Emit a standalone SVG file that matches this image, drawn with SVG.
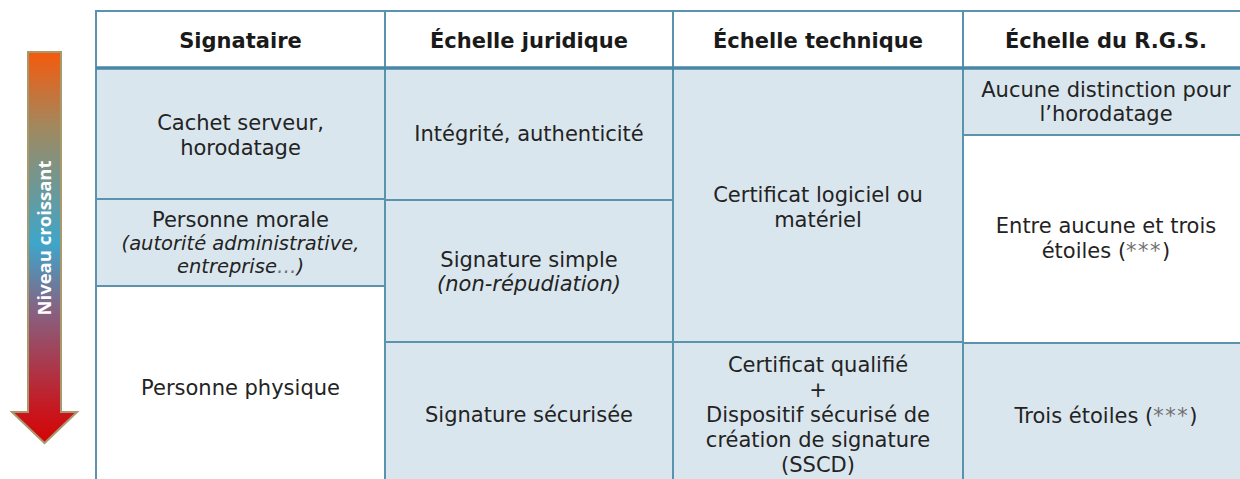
<svg xmlns="http://www.w3.org/2000/svg" width="1240" height="479" viewBox="0 0 1240 479">
  <defs>
    <linearGradient id="levelGrad" gradientUnits="userSpaceOnUse" x1="0" y1="52" x2="0" y2="443">
      <stop offset="0" stop-color="#f45a0c"/>
      <stop offset="0.2" stop-color="#9e8a62"/>
      <stop offset="0.49" stop-color="#3ea6ca"/>
      <stop offset="0.66" stop-color="#866282"/>
      <stop offset="0.92" stop-color="#c8161e"/>
      <stop offset="1" stop-color="#d40404"/>
    </linearGradient>
    <style>
      .cell { stroke: none; }
      .blue { fill: #dae6ee; }
      .white { fill: #ffffff; }
      .grid { stroke: #5a93ae; stroke-width: 2; fill: none; }
      .rule { stroke: #4a87a6; stroke-width: 3.5; }
      .txt { font-family: "DejaVu Sans", Verdana, sans-serif; font-size: 21px; fill: #232323; text-anchor: middle; }
      .hdr { font-weight: bold; fill: #1a1a1a; }
      .it { font-style: italic; font-size: 19.5px; }
      .stars { fill: #707070; letter-spacing: 1.5px; }
      .lbl { font-family: "Open Sans", "DejaVu Sans", sans-serif; font-weight: bold; font-size: 18.5px; fill: #ffffff; text-anchor: middle; }
    </style>
  </defs>

  <rect width="1240" height="479" fill="#ffffff"/>

  <!-- Increasing-level arrow -->
  <g id="level-arrow">
    <path d="M28,52 H61 V412 H77 L44.5,443 L12,412 H28 Z" fill="url(#levelGrad)" stroke="#a8986c" stroke-width="2" stroke-linejoin="miter"/>
    <text class="lbl" transform="translate(51,238) rotate(-90)">Niveau croissant</text>
  </g>

  <!-- Header row -->
  <g id="header">
    <rect class="cell white" x="96" y="11" width="1153" height="57"/>
    <text class="txt hdr" x="240.5" y="48">Signataire</text>
    <text class="txt hdr" x="529" y="48">Échelle juridique</text>
    <text class="txt hdr" x="818" y="48">Échelle technique</text>
    <text class="txt hdr" x="1106" y="48">Échelle du R.G.S.</text>
  </g>

  <!-- Signataire column -->
  <g id="sig-cachet">
    <rect class="cell blue" x="96" y="68" width="289" height="131"/>
    <text class="txt" x="240.5" y="130">Cachet serveur,</text>
    <text class="txt" x="240.5" y="155">horodatage</text>
  </g>
  <g id="sig-morale">
    <rect class="cell blue" x="96" y="199" width="289" height="87"/>
    <text class="txt" x="240.5" y="227">Personne morale</text>
    <text class="txt it" x="240.5" y="250">(autorité administrative,</text>
    <text class="txt it" x="240.5" y="273">entreprise<tspan fill="#707070">…</tspan>)</text>
  </g>
  <g id="sig-physique">
    <rect class="cell white" x="96" y="286" width="289" height="200"/>
    <text class="txt" x="240.5" y="395">Personne physique</text>
  </g>

  <!-- Échelle juridique column -->
  <g id="jur-integrite">
    <rect class="cell blue" x="385" y="68" width="288" height="132"/>
    <text class="txt" x="529" y="141">Intégrité, authenticité</text>
  </g>
  <g id="jur-simple">
    <rect class="cell blue" x="385" y="200" width="288" height="142"/>
    <text class="txt" x="529" y="267">Signature simple</text>
    <text class="txt it" x="529" y="291" style="font-size:21px">(non-répudiation)</text>
  </g>
  <g id="jur-securisee">
    <rect class="cell blue" x="385" y="342" width="288" height="144"/>
    <text class="txt" x="529" y="422">Signature sécurisée</text>
  </g>

  <!-- Échelle technique column -->
  <g id="tech-logiciel">
    <rect class="cell blue" x="673" y="68" width="290" height="274"/>
    <text class="txt" x="818" y="202">Certificat logiciel ou</text>
    <text class="txt" x="818" y="227">matériel</text>
  </g>
  <g id="tech-qualifie">
    <rect class="cell blue" x="673" y="342" width="290" height="144"/>
    <text class="txt" x="818" y="372">Certificat qualifié</text>
    <text class="txt" x="818" y="397">+</text>
    <text class="txt" x="818" y="422">Dispositif sécurisé de</text>
    <text class="txt" x="818" y="447">création de signature</text>
    <text class="txt" x="818" y="472">(SSCD)</text>
  </g>

  <!-- Échelle du R.G.S. column -->
  <g id="rgs-aucune">
    <rect class="cell blue" x="963" y="68" width="286" height="67"/>
    <text class="txt" x="1106" y="97">Aucune distinction pour</text>
    <text class="txt" x="1106" y="121">l’horodatage</text>
  </g>
  <g id="rgs-entre">
    <rect class="cell white" x="963" y="135" width="286" height="208"/>
    <text class="txt" x="1106" y="233">Entre aucune et trois</text>
    <text class="txt" x="1106" y="258">étoiles (<tspan class="stars">***</tspan>)</text>
  </g>
  <g id="rgs-trois">
    <rect class="cell blue" x="963" y="343" width="286" height="143"/>
    <text class="txt" x="1106" y="423">Trois étoiles (<tspan class="stars">***</tspan>)</text>
  </g>

  <!-- Table rules -->
  <g id="grid-lines">
    <path class="grid" d="M96,486 V11 H1249"/>
    <path class="grid" d="M385,11 V486 M673,11 V486 M963,11 V486"/>
    <path class="grid" d="M96,199 H385 M96,286 H385 M385,200 H673 M385,342 H963 M963,135 H1249 M963,343 H1249"/>
    <line class="rule" x1="96" y1="68" x2="1249" y2="68"/>
  </g>
</svg>
